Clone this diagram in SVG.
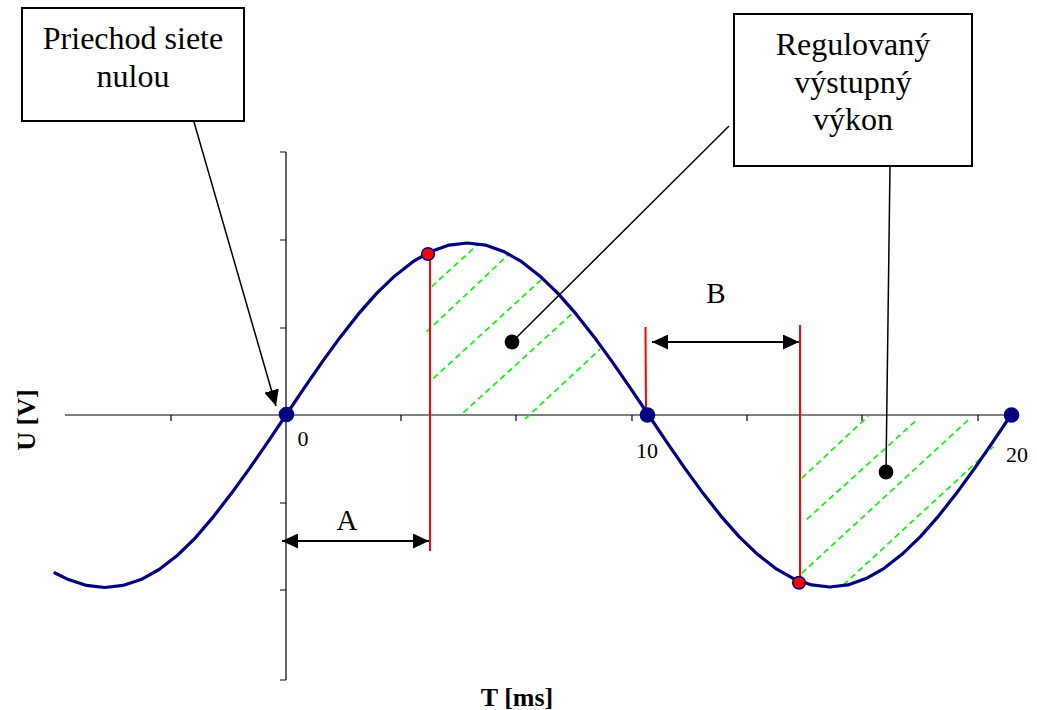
<svg xmlns="http://www.w3.org/2000/svg" width="1037" height="710" viewBox="0 0 1037 710">
<defs>
<style>
.ax{stroke:#000;stroke-width:1.2;fill:none}
.curve{stroke:#000080;stroke-width:3.2;fill:none;stroke-linejoin:round;stroke-linecap:round}
.red{stroke:#ff0000;stroke-width:2;fill:none}
.hatch{stroke:#11f011;stroke-width:1.7;stroke-dasharray:6 4;fill:none}
.con{stroke:#000;stroke-width:1.5;fill:none}
.dim{stroke:#000;stroke-width:2.2;fill:none}
.box{fill:#fff;stroke:#000;stroke-width:2}
.t{font-family:"Liberation Serif","Times New Roman",serif;fill:#000}
.big{font-size:32px;text-anchor:middle}
.num{font-size:22px;text-anchor:middle}
.ab{font-size:29px;text-anchor:middle}
.axl{font-size:26px;font-weight:bold;text-anchor:middle}
.bdot{fill:#000080}
.rdot{fill:#ff0000;stroke:#000080;stroke-width:1.5}
</style>
<marker id="ah" viewBox="0 0 16 15" markerWidth="16" markerHeight="15" refX="16" refY="7.5" markerUnits="userSpaceOnUse" orient="auto-start-reverse">
<path d="M0,0 L16,7.5 L0,15 z" fill="#000"/>
</marker>
</defs>
<rect width="1037" height="710" fill="#fff"/>

<g id="axes">
<line class="ax" x1="65" y1="415" x2="1010" y2="415"/>
<line class="ax" x1="286" y1="152" x2="286" y2="680"/>
<path class="ax" d="M280,152H286M280,240H286M280,328H286M280,503H286M280,590H286M280,680H286"/>
<path class="ax" d="M171,415V421M401,415V421M516,415V421M632,415V421M747,415V421M862,415V421M978,415V421"/>
<text class="t num" x="303" y="446">0</text>
<text class="t num" x="647" y="458">10</text>
<text class="t num" x="1017" y="462">20</text>
<text class="t axl" x="517" y="706">T [ms]</text>
<text class="t axl" transform="translate(35,420) rotate(-90)">U [V]</text>
</g>

<g id="hatching">
<line class="hatch" x1="431.7" y1="286.7" x2="478.3" y2="244"/>
<line class="hatch" x1="426.7" y1="331.7" x2="509" y2="254"/>
<line class="hatch" x1="433.3" y1="378.3" x2="541.7" y2="279.3"/>
<line class="hatch" x1="463.3" y1="412.7" x2="571.7" y2="314"/>
<line class="hatch" x1="525" y1="419" x2="600" y2="349.3"/>
<line class="hatch" x1="801.7" y1="478.3" x2="868.3" y2="416"/>
<line class="hatch" x1="806.7" y1="519.3" x2="916.7" y2="420"/>
<line class="hatch" x1="801.7" y1="573.3" x2="970" y2="418.3"/>
<line class="hatch" x1="843.3" y1="585" x2="993.3" y2="446.7"/>
</g>

<g id="red-lines">
<line class="red" x1="430" y1="254" x2="430" y2="551"/>
<line class="red" x1="645.5" y1="327" x2="646" y2="415"/>
<line class="red" x1="800" y1="325" x2="800" y2="583"/>
</g>

<g id="sine">
<polyline class="curve" points="55,573 68.5,579.6 86.6,585.4 104.75,587.5 122.9,585.4 141,579.6 159.1,569.5 177.25,555.5 195.4,537.8 213.5,516.6 231.6,493.1 249.75,468.1 267.9,441.9 286,415 304.1,388.1 322.25,361.9 340.4,336.9 358.5,313.9 376.6,293.4 394.75,275.9 412.9,261.7 431,251.4 449.1,245.1 467.25,243 485.4,245.1 503.5,251.4 521.6,261.7 539.75,275.9 557.9,293.4 576,313.9 594.1,336.9 612.25,361.9 630.4,388.1 648.5,415 666.6,441.9 684.75,468.1 702.9,493.1 721,516.1 739.1,536.6 757.25,554.1 775.4,568.3 793.5,578.6 811.6,584.9 829.75,587 847.9,584.9 866,578.6 884.1,568.3 902.25,554.1 920.4,536.6 938.5,516.1 956.6,493.1 974.75,468.1 992.9,441.9 1011,415"/>
</g>

<g id="points">
<circle class="bdot" cx="286.5" cy="414.5" r="7.8"/>
<circle class="bdot" cx="647.5" cy="415" r="7.8"/>
<circle class="bdot" cx="1011.5" cy="415" r="7.8"/>
<circle class="rdot" cx="428" cy="254" r="6.3"/>
<circle class="rdot" cx="799" cy="582.7" r="6.3"/>
</g>

<g id="dimensions">
<line class="dim" x1="282" y1="541" x2="429" y2="541" marker-start="url(#ah)" marker-end="url(#ah)"/>
<text class="t ab" x="347" y="530">A</text>
<line class="dim" x1="652" y1="342" x2="799" y2="342" marker-start="url(#ah)" marker-end="url(#ah)"/>
<text class="t ab" x="716" y="303">B</text>
</g>

<g id="connectors">
<line class="con" x1="194" y1="122" x2="276" y2="406" marker-end="url(#ah)"/>
<line class="con" x1="729" y1="126" x2="512" y2="342"/>
<line class="con" x1="890" y1="166" x2="886" y2="472"/>
<circle cx="512" cy="342" r="7.4" fill="#000"/>
<circle cx="886" cy="472" r="7.4" fill="#000"/>
</g>

<g id="node-priechod">
<rect class="box" x="22" y="8" width="222" height="113"/>
<text class="t big" x="133" y="49">Priechod siete</text>
<text class="t big" x="133" y="87">nulou</text>
</g>

<g id="node-regulovany">
<rect class="box" x="734" y="14" width="238" height="152"/>
<text class="t big" x="853" y="55">Regulovaný</text>
<text class="t big" x="853" y="93">výstupný</text>
<text class="t big" x="853" y="130">výkon</text>
</g>
</svg>
